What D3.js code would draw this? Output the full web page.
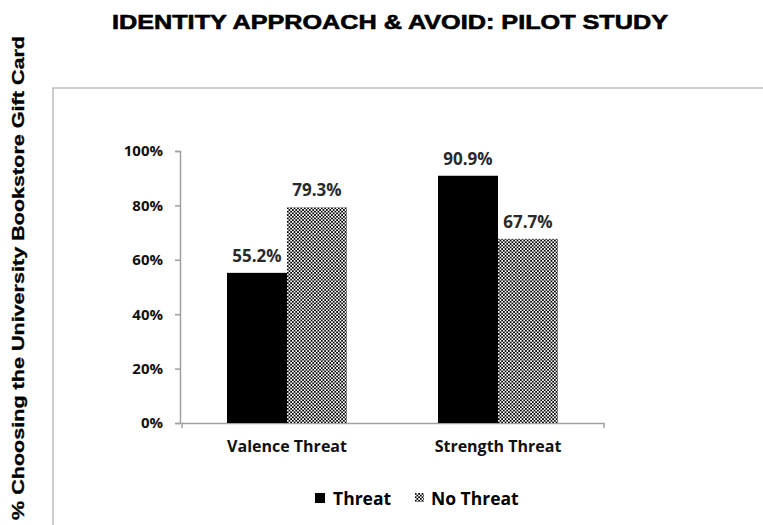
<!DOCTYPE html>
<html><head><meta charset="utf-8">
<script src="https://cdn.jsdelivr.net/npm/d3@7"></script>
<style>body{margin:0;background:#fff}svg{display:block}</style>
</head><body>
<script>
const categories = ["Valence Threat", "Strength Threat"];
const seriesNames = ["Threat", "No Threat"];
const threatValues = [0.552, 0.909];
const noThreatValues = [0.793, 0.677];
const valueLabels = [["55.2%", "79.3%"], ["90.9%", "67.7%"]];
const yTicks = [0, 0.2, 0.4, 0.6, 0.8, 1.0];

const W = 763, H = 525;
const svg = d3.select("body").append("svg").attr("width", W).attr("height", H);

const defs = svg.append("defs");
const pat = defs.append("pattern").attr("id", "checker").attr("patternUnits", "userSpaceOnUse")
  .attr("width", 3.4).attr("height", 3.4);
pat.append("rect").attr("width", 3.4).attr("height", 3.4).attr("fill", "#fff");
pat.append("rect").attr("x", 0).attr("y", 0).attr("width", 1.7).attr("height", 1.7).attr("fill", "#000");
pat.append("rect").attr("x", 1.7).attr("y", 1.7).attr("width", 1.7).attr("height", 1.7).attr("fill", "#000");

// plot frame
svg.append("rect").attr("x", 53).attr("y", 88).attr("width", 760).attr("height", 500)
  .attr("fill", "none").attr("stroke", "#bdbdbd").attr("stroke-width", 1.5);

// title
svg.append("text").attr("x", 112).attr("y", 29)
  .attr("textLength", 556).attr("lengthAdjust", "spacingAndGlyphs")
  .style("font-family", "'Liberation Sans', Arial, sans-serif")
  .attr("stroke", "#000").attr("stroke-width", 0.6)
  .style("font-weight", "bold").style("font-size", "20px").text("IDENTITY APPROACH & AVOID: PILOT STUDY");

// y-axis title
svg.append("text").attr("transform", "translate(24,520) rotate(-90)")
  .attr("textLength", 484).attr("lengthAdjust", "spacingAndGlyphs")
  .style("font-family", "'Liberation Sans', Arial, sans-serif").style("font-weight", "bold")
  .attr("stroke", "#000").attr("stroke-width", 0.3)
  .style("font-size", "16px").text("% Choosing the University Bookstore Gift Card");

const x0 = d3.scaleBand().domain(categories).range([181.5, 603.5]).paddingInner(0).paddingOuter(0);
const x1 = d3.scaleBand().domain(seriesNames).range([0, x0.bandwidth()]).paddingInner(0).paddingOuter(0.758);
const y = d3.scaleLinear().domain([0, 1]).range([423, 151]);

const font = "'Open Sans', 'Noto Sans', sans-serif";

// y axis
const yAxis = svg.append("g").attr("transform", "translate(180,0)")
  .call(d3.axisLeft(y).tickValues(yTicks).tickFormat(d3.format(".0%")).tickSize(5).tickPadding(12));
yAxis.select(".domain").attr("stroke", "#a0a0a0").attr("stroke-width", 1.5);
yAxis.selectAll(".tick line").attr("stroke", "#a0a0a0").attr("stroke-width", 1.5);
yAxis.selectAll(".tick text").style("font-family", font).style("font-weight", "bold")
  .style("font-size", "15px").attr("fill", "#111");

// x axis
const xAxis = svg.append("g").attr("transform", "translate(0,423)")
  .call(d3.axisBottom(x0).tickSize(0).tickPadding(18).tickSizeOuter(5));
xAxis.select(".domain").attr("stroke", "#a0a0a0").attr("stroke-width", 1.5);
xAxis.selectAll(".tick text").style("font-family", font).style("font-weight", "bold")
  .style("font-size", "16px").attr("fill", "#111");

const data = categories.map((c, i) => ({cat: c, vals: [
  {s: seriesNames[0], v: threatValues[i], label: valueLabels[i][0]},
  {s: seriesNames[1], v: noThreatValues[i], label: valueLabels[i][1]}]}));

const groups = svg.append("g").selectAll("g").data(data).join("g")
  .attr("transform", d => `translate(${x0(d.cat)},0)`);
groups.selectAll("rect").data(d => d.vals).join("rect")
  .attr("x", d => x1(d.s)).attr("width", x1.bandwidth())
  .attr("y", d => y(d.v)).attr("height", d => y(0) - y(d.v))
  .attr("fill", d => d.s === "Threat" ? "#000" : "url(#checker)");
groups.selectAll("text").data(d => d.vals).join("text")
  .attr("x", d => x1(d.s) + x1.bandwidth() / 2).attr("y", d => y(d.v) - 11)
  .attr("text-anchor", "middle").style("font-family", font).style("font-weight", "bold")
  .style("font-size", "17px").attr("fill", "#2a2a2a").text(d => d.label);

// legend
const lg = svg.append("g");
lg.append("rect").attr("x", 315).attr("y", 493).attr("width", 10).attr("height", 10).attr("fill", "#000");
lg.append("text").attr("x", 333).attr("y", 505).style("font-family", font).style("font-weight", "bold")
  .style("font-size", "17.5px").text(seriesNames[0]);
lg.append("rect").attr("x", 415).attr("y", 493).attr("width", 9).attr("height", 9).attr("fill", "url(#checker)");
lg.append("text").attr("x", 431).attr("y", 505).style("font-family", font).style("font-weight", "bold")
  .style("font-size", "17.5px").text(seriesNames[1]);
</script>
</body></html>
